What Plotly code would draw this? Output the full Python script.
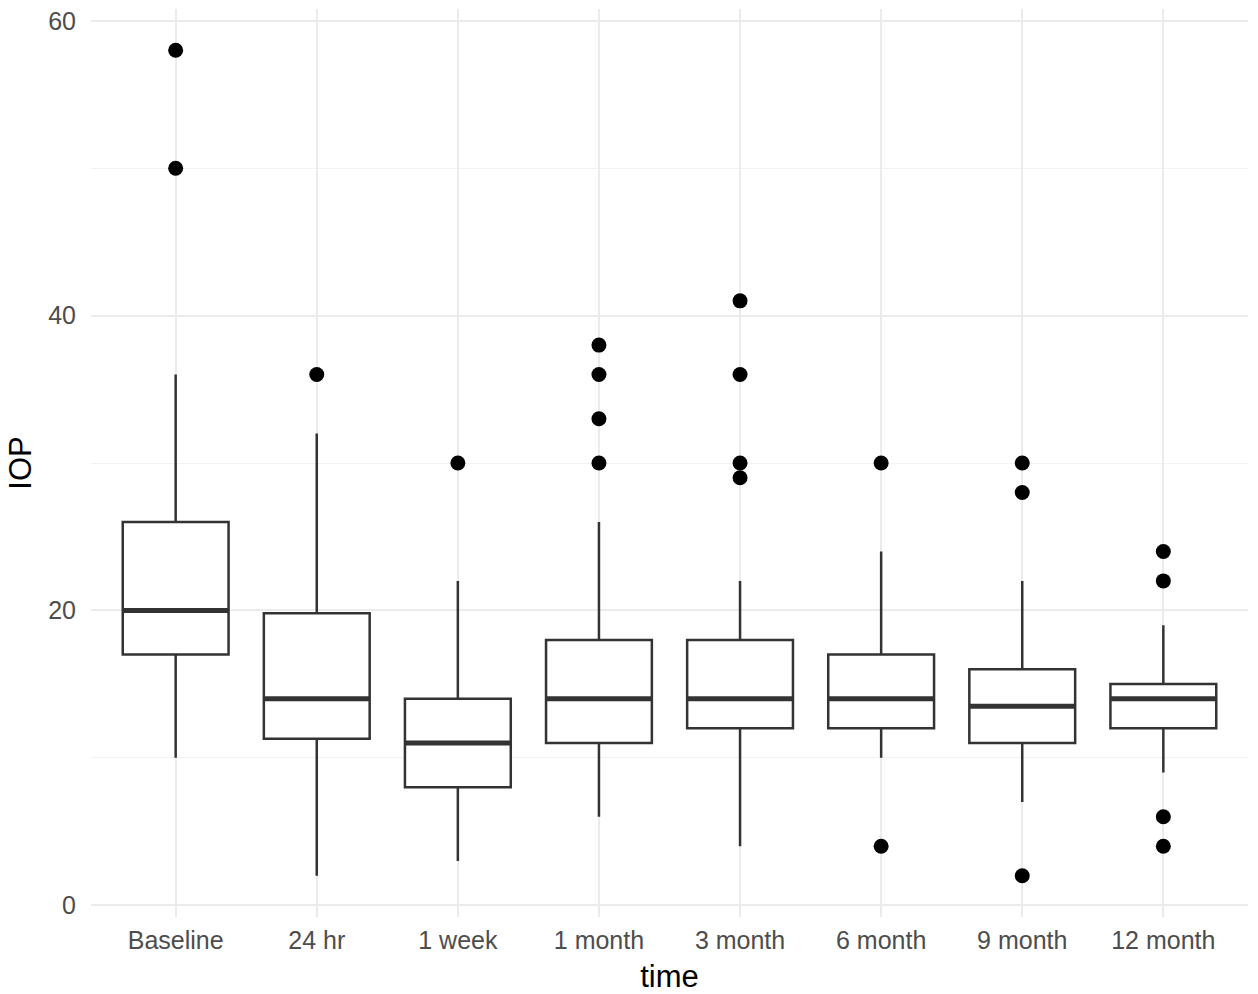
import plotly.graph_objects as go

categories = ["Baseline", "24 hr", "1 week", "1 month", "3 month", "6 month", "9 month", "12 month"]
q1 = [17, 11.3, 8, 11, 12, 12, 11, 12]
median = [20, 14, 11, 14, 14, 14, 13.5, 14]
q3 = [26, 19.8, 14, 18, 18, 17, 16, 15]
lower_whisker = [10, 2, 3, 6, 4, 10, 7, 9]
upper_whisker = [36, 32, 22, 26, 22, 24, 22, 19]
outliers = [
    [50, 58],
    [36],
    [30],
    [30, 33, 36, 38],
    [29, 30, 36, 41],
    [4, 30],
    [2, 28, 30],
    [4, 6, 22, 24],
]

font_family = "Liberation Sans, Arial, Helvetica, sans-serif"
line_col = "#333333"
box_width = 0.75

fig = go.Figure()
xs = list(range(len(categories)))

fig.add_trace(go.Box(
    x=xs, q1=q1, median=median, q3=q3,
    lowerfence=lower_whisker, upperfence=upper_whisker,
    width=box_width, whiskerwidth=0,
    fillcolor="white", line=dict(color=line_col, width=2.5),
    boxpoints=False, showlegend=False, hoverinfo="skip",
))

# thicker median segments (ggplot style)
mx, my = [], []
for i, m in enumerate(median):
    mx += [i - box_width / 2, i + box_width / 2, None]
    my += [m, m, None]
fig.add_trace(go.Scatter(x=mx, y=my, mode="lines",
                         line=dict(color=line_col, width=5),
                         showlegend=False, hoverinfo="skip"))

ox, oy = [], []
for i, vals in enumerate(outliers):
    for v in vals:
        ox.append(i)
        oy.append(v)
fig.add_trace(go.Scatter(x=ox, y=oy, mode="markers",
                         marker=dict(color="black", size=15),
                         showlegend=False))

grid = "#ebebeb"
fig.update_layout(
    width=1258, height=994,
    margin=dict(l=91, r=10, t=9, b=77),
    plot_bgcolor="white", paper_bgcolor="white",
    font=dict(family=font_family),
    xaxis=dict(
        range=[-0.6, len(categories) - 0.4],
        tickvals=xs, ticktext=categories,
        showgrid=True, gridcolor=grid, gridwidth=1.6,
        zeroline=False, showline=False, ticks="",
        ticklabelstandoff=6,
        tickfont=dict(size=25, color="#4d4d4d"),
        automargin=False,
        title=dict(text="time", font=dict(size=31, color="black"), standoff=21),
    ),
    yaxis=dict(
        range=[-0.8, 60.8],
        tickvals=[0, 20, 40, 60],
        showgrid=True, gridcolor=grid, gridwidth=1.6,
        minor=dict(tickvals=[10, 30, 50], showgrid=True, gridcolor="#f2f2f2", gridwidth=1),
        zeroline=False, showline=False, ticks="",
        ticklabelstandoff=14,
        tickfont=dict(size=25, color="#4d4d4d"),
        automargin=False,
        title=dict(text="IOP", font=dict(size=31, color="black"), standoff=7),
    ),
)

# remove the default 8px page margin so the figure fills the window exactly
fig.write_html("out.html",
               config={"displayModeBar": False},
               post_script="document.body.style.margin='0';document.body.style.overflow='hidden';")
